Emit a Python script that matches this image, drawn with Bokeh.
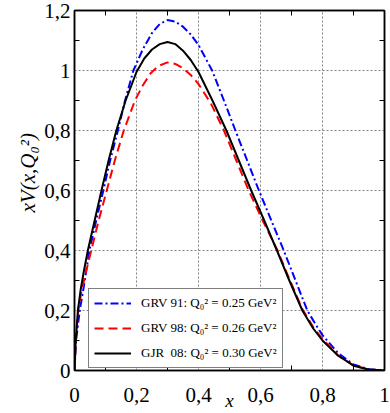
from bokeh.plotting import figure
from bokeh.models import FixedTicker, LinearAxis, Legend, LegendItem, Range1d, Title
from bokeh.embed import file_html
from bokeh.resources import INLINE

# ---- data ----
x_grv91 = [0, 0.005, 0.017, 0.03, 0.048, 0.07, 0.093, 0.115, 0.14, 0.163, 0.19, 0.22, 0.25, 0.275, 0.3,
           0.325, 0.35, 0.375, 0.4, 0.444, 0.482, 0.519, 0.557, 0.595, 0.635, 0.675, 0.713, 0.751, 0.78,
           0.8, 0.85, 0.9, 0.95, 1.0]
y_grv91 = [0, 0.10, 0.20, 0.28, 0.40, 0.50, 0.60, 0.70, 0.80, 0.90, 1.0, 1.07, 1.125, 1.155, 1.168,
           1.163, 1.146, 1.12, 1.085, 1.0, 0.90, 0.80, 0.70, 0.60, 0.50, 0.40, 0.30, 0.20, 0.15,
           0.118, 0.058, 0.02, 0.004, 0]

x_grv98 = [0, 0.004, 0.012, 0.022, 0.035, 0.054, 0.078, 0.104, 0.13, 0.159, 0.195, 0.22, 0.245, 0.27, 0.3,
           0.325, 0.35, 0.375, 0.4, 0.44, 0.482, 0.522, 0.562, 0.607, 0.655, 0.695, 0.735, 0.77,
           0.8, 0.85, 0.9, 0.95, 1.0]
y_grv98 = [0, 0.10, 0.20, 0.26, 0.32, 0.40, 0.50, 0.60, 0.70, 0.80, 0.90, 0.95, 0.99, 1.015, 1.027,
           1.022, 1.008, 0.985, 0.955, 0.89, 0.80, 0.70, 0.60, 0.50, 0.40, 0.30, 0.205, 0.145,
           0.105, 0.05, 0.017, 0.003, 0]

x_gjr08 = [0, 0.004, 0.011, 0.02, 0.03, 0.043, 0.065, 0.087, 0.11, 0.135, 0.165, 0.2, 0.225, 0.25, 0.275,
           0.3, 0.325, 0.35, 0.375, 0.4, 0.445, 0.49, 0.53, 0.57, 0.612, 0.653, 0.693, 0.735, 0.77,
           0.8, 0.85, 0.9, 0.95, 1.0]
y_gjr08 = [0, 0.10, 0.20, 0.27, 0.33, 0.40, 0.50, 0.60, 0.70, 0.80, 0.90, 0.995, 1.04, 1.07, 1.088,
           1.095, 1.088, 1.066, 1.035, 0.995, 0.90, 0.80, 0.70, 0.60, 0.50, 0.40, 0.30, 0.20, 0.14,
           0.10, 0.05, 0.016, 0.003, 0]

series_labels = ["GRV 91: Q\u2080\u00b2 = 0.25 GeV\u00b2",
                 "GRV 98: Q\u2080\u00b2 = 0.26 GeV\u00b2",
                 "GJR\u00a0 08: Q\u2080\u00b2 = 0.30 GeV\u00b2"]

x_major = [0, 0.2, 0.4, 0.6, 0.8, 1.0]
x_minor = [0.1, 0.3, 0.5, 0.7, 0.9]
x_tick_labels = ["0", "0,2", "0,4", "0,6", "0,8", "1"]
y_major = [0, 0.2, 0.4, 0.6, 0.8, 1.0, 1.2]
y_minor = [0.1, 0.3, 0.5, 0.7, 0.9, 1.1]
y_tick_labels = ["0", "0,2", "0,4", "0,6", "0,8", "1", "1,2"]

x_title = "x"
y_title = "xV(x,Q\u2080\u00b2)"

FONT = "Liberation Serif"

p = figure(frame_width=310, frame_height=360,
           x_range=Range1d(0, 1), y_range=Range1d(0, 1.2),
           output_backend="svg", toolbar_location=None,
           min_border_left=74, min_border_right=6, min_border_top=10, min_border_bottom=40,
           x_axis_label=x_title)
p.outline_line_color = "black"
p.outline_line_width = 1.5
p.background_fill_color = "white"
p.border_fill_color = "white"

xt = FixedTicker(ticks=x_major, minor_ticks=x_minor)
yt = FixedTicker(ticks=y_major, minor_ticks=y_minor)


def style_axis(ax, ticker, labels, show_labels=True):
    ax.ticker = ticker
    ax.major_label_overrides = {t: l for t, l in zip(ticker.ticks, labels)}
    ax.axis_line_color = "black"
    ax.axis_line_width = 1.5
    ax.major_tick_in = 0
    ax.major_tick_out = 0
    ax.minor_tick_in = 5
    ax.minor_tick_out = 0
    ax.minor_tick_line_color = "black"
    ax.minor_tick_line_width = 1
    ax.major_label_text_font = FONT
    if show_labels:
        ax.major_label_text_color = "black"
        ax.major_label_text_font_size = "21px"
    else:
        ax.major_label_text_color = None
        ax.major_label_text_font_size = "1px"
        ax.major_label_standoff = 0


style_axis(p.xaxis[0], xt, x_tick_labels)
style_axis(p.yaxis[0], yt, y_tick_labels)
p.xaxis.major_label_standoff = 17
p.yaxis.major_label_standoff = 4
p.xaxis.axis_label_text_font = FONT
p.xaxis.axis_label_text_font_style = "italic"
p.xaxis.axis_label_text_color = "black"
p.xaxis.axis_label_text_font_size = "19px"
p.xaxis.axis_label_standoff = -15

# y title as a side title, so that it can sit a little above the centre like in the reference
ytitle = Title(text=y_title, align="left", offset=158, standoff=4,
               text_font=FONT, text_font_style="italic", text_font_size="21px",
               text_color="black")
p.add_layout(ytitle, "left")

top = LinearAxis()
style_axis(top, FixedTicker(ticks=x_major, minor_ticks=x_minor), x_tick_labels, show_labels=False)
right = LinearAxis()
style_axis(right, FixedTicker(ticks=y_major, minor_ticks=y_minor), y_tick_labels, show_labels=False)
p.add_layout(top, "above")
p.add_layout(right, "right")

for g in (p.xgrid, p.ygrid):
    g.grid_line_color = "#808080"
    g.grid_line_dash = "2 2"
    g.grid_line_width = 1

r1 = p.line(x_grv91, y_grv91, line_color="#0000ff", line_width=2, line_dash="8 3 2 3")
r2 = p.line(x_grv98, y_grv98, line_color="#ff0000", line_width=2, line_dash="9 5")
r3 = p.line(x_gjr08, y_gjr08, line_color="black", line_width=2)

legend = Legend(items=[LegendItem(label=series_labels[0], renderers=[r1]),
                       LegendItem(label=series_labels[1], renderers=[r2]),
                       LegendItem(label=series_labels[2], renderers=[r3])],
                location=(14, 2))
legend.padding = 5
legend.spacing = 7
legend.margin = 0
legend.label_height = 18
legend.glyph_height = 18
legend.glyph_width = 37
legend.label_standoff = 10
legend.label_text_font = FONT
legend.label_text_font_size = "13px"
legend.label_text_color = "black"
legend.border_line_color = "black"
legend.border_line_width = 1
legend.background_fill_color = "white"
legend.background_fill_alpha = 1
p.add_layout(legend)

open("out.html", "w").write(file_html(p, INLINE))
